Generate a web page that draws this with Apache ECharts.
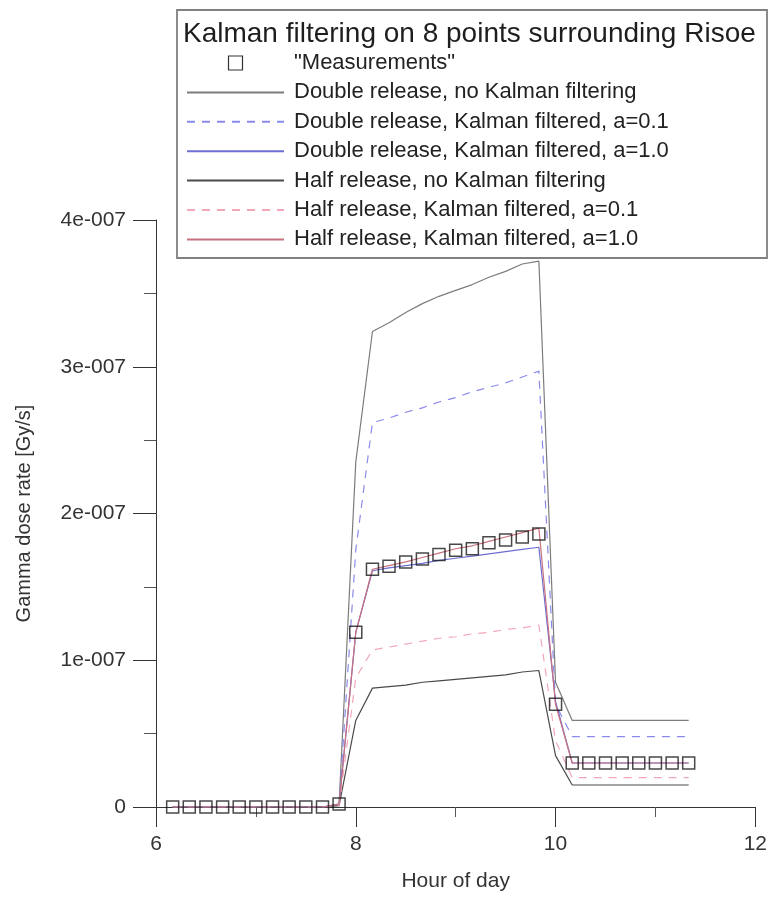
<!DOCTYPE html>
<html>
<head>
<meta charset="utf-8">
<script src="https://cdn.jsdelivr.net/npm/echarts@6/dist/echarts.min.js"></script>
<style>
  html, body { margin: 0; padding: 0; background: #fff; }
  #chart { width: 770px; height: 897px; }
</style>
</head>
<body>
<div id="chart"></div>
<script>
// hour of day, one point every 10 minutes
const hours = [6.167, 6.333, 6.5, 6.667, 6.833, 7.0, 7.167, 7.333, 7.5, 7.667, 7.833,
               8.0, 8.167, 8.333, 8.5, 8.667, 8.833, 9.0, 9.167, 9.333, 9.5, 9.667, 9.833,
               10.0, 10.167, 10.333, 10.5, 10.667, 10.833, 11.0, 11.167, 11.333];

// gamma dose rate, in units of 1e-7 Gy/s
const measured  = [0, 0, 0, 0, 0, 0, 0, 0, 0, 0, 0.02,
                   1.19, 1.62, 1.64, 1.67, 1.69, 1.72, 1.75, 1.76, 1.80, 1.82, 1.84, 1.86,
                   0.70, 0.30, 0.30, 0.30, 0.30, 0.30, 0.30, 0.30, 0.30];
const doubleRaw = [0, 0, 0, 0, 0, 0, 0, 0, 0, 0, 0.02,
                   2.35, 3.24, 3.30, 3.37, 3.43, 3.48, 3.52, 3.56, 3.61, 3.65, 3.70, 3.72,
                   0.85, 0.59, 0.59, 0.59, 0.59, 0.59, 0.59, 0.59, 0.59];
const doubleK01 = [0, 0, 0, 0, 0, 0, 0, 0, 0, 0, 0.01,
                   1.75, 2.62, 2.65, 2.69, 2.72, 2.76, 2.79, 2.83, 2.86, 2.89, 2.93, 2.97,
                   0.70, 0.48, 0.48, 0.48, 0.48, 0.48, 0.48, 0.48, 0.48];
const doubleK10 = [0, 0, 0, 0, 0, 0, 0, 0, 0, 0, 0.02,
                   1.19, 1.61, 1.63, 1.645, 1.66, 1.68, 1.695, 1.71, 1.725, 1.74, 1.755, 1.77,
                   0.72, 0.30, 0.30, 0.30, 0.30, 0.30, 0.30, 0.30, 0.30];
const halfRaw   = [0, 0, 0, 0, 0, 0, 0, 0, 0, 0, 0.01,
                   0.59, 0.81, 0.82, 0.83, 0.85, 0.86, 0.87, 0.88, 0.89, 0.90, 0.92, 0.93,
                   0.35, 0.15, 0.15, 0.15, 0.15, 0.15, 0.15, 0.15, 0.15];
const halfK01   = [0, 0, 0, 0, 0, 0, 0, 0, 0, 0, 0.01,
                   0.88, 1.07, 1.09, 1.11, 1.13, 1.15, 1.16, 1.18, 1.19, 1.21, 1.22, 1.24,
                   0.45, 0.20, 0.20, 0.20, 0.20, 0.20, 0.20, 0.20, 0.20];
const halfK10   = [0, 0, 0, 0, 0, 0, 0, 0, 0, 0, 0.02,
                   1.19, 1.62, 1.645, 1.67, 1.70, 1.73, 1.76, 1.78, 1.81, 1.84, 1.87, 1.90,
                   0.70, 0.30, 0.30, 0.30, 0.30, 0.30, 0.30, 0.30, 0.30];

const names = ['"Measurements"',
               'Double release, no Kalman filtering',
               'Double release, Kalman filtered, a=0.1',
               'Double release, Kalman filtered, a=1.0',
               'Half release, no Kalman filtering',
               'Half release, Kalman filtered, a=0.1',
               'Half release, Kalman filtered, a=1.0'];

const font = '"Liberation Sans", Arial, sans-serif';
const pairs = vals => hours.map((h, i) => [h, vals[i]]);

function lineSeries(name, vals, color, type) {
    return {
        name: name,
        type: 'line',
        data: pairs(vals),
        symbol: 'none',
        z: 2,
        lineStyle: { color: color, width: 1.2, type: type || 'solid' },
        itemStyle: { color: color }
    };
}

// legend entries: hollow square for the measurements, plain lines for the rest
const legendData = names.map((n, i) => i === 0
    ? { name: n, icon: 'path://M0,0H10V10H0Z',
        itemStyle: { opacity: 1, color: 'rgba(255,255,255,0)', borderColor: '#333', borderWidth: 1.2 } }
    : { name: n });

let myChart = echarts.init(document.getElementById('chart'), null, { renderer: 'canvas' });

myChart.setOption({
    backgroundColor: '#fff',
    animation: false,
    textStyle: { fontFamily: font },
    title: {
        text: 'Kalman filtering on 8 points surrounding Risoe',
        left: 183,
        top: 20,
        padding: 0,
        textStyle: { fontFamily: font, fontSize: 28, fontWeight: 'normal', color: '#1e1e1e' }
    },
    // box around title + legend
    graphic: [{
        type: 'rect',
        z: 1,
        shape: { x: 177, y: 10, width: 590, height: 248 },
        style: { fill: '#fff', stroke: '#808080', lineWidth: 1.8 }
    }],
    legend: {
        orient: 'vertical',
        left: 186,
        top: 52,
        padding: 0,
        itemWidth: 97,
        itemHeight: 14,
        itemGap: 7.4,
        selectedMode: false,
        itemStyle: { opacity: 0 },
        textStyle: { fontFamily: font, fontSize: 22, lineHeight: 22, color: '#222', padding: [0, 0, 0, 5] },
        data: legendData
    },
    grid: { left: 156, right: 13, top: 220, bottom: 82 },
    xAxis: {
        type: 'value',
        min: 6,
        max: 12,
        interval: 2,
        name: 'Hour of day',
        nameLocation: 'middle',
        nameGap: 64,
        nameTextStyle: { fontFamily: font, fontSize: 21, color: '#333' },
        axisLine: { lineStyle: { color: '#333', width: 1 } },
        axisTick: { length: 20, lineStyle: { color: '#333' } },
        minorTick: { show: true, splitNumber: 2, length: 10, lineStyle: { color: '#555' } },
        axisLabel: { fontFamily: font, fontSize: 21, color: '#333', margin: 27 },
        splitLine: { show: false }
    },
    yAxis: {
        type: 'value',
        min: 0,
        max: 4,
        interval: 1,
        name: 'Gamma dose rate [Gy/s]',
        nameLocation: 'middle',
        nameGap: 122,
        nameTextStyle: { fontFamily: font, fontSize: 20, color: '#333' },
        axisLine: { show: true, lineStyle: { color: '#333', width: 1 } },
        axisTick: { show: true, length: 23, lineStyle: { color: '#333' } },
        minorTick: { show: true, splitNumber: 2, length: 12, lineStyle: { color: '#555' } },
        axisLabel: {
            fontFamily: font, fontSize: 21, color: '#333', margin: 30,
            formatter: v => v === 0 ? '0' : v + 'e-007'
        },
        splitLine: { show: false }
    },
    series: [
        {
            name: names[0],
            type: 'scatter',
            data: pairs(measured),
            symbol: 'rect',
            symbolSize: 12,
            z: 5,
            itemStyle: { color: 'rgba(255,255,255,0)', borderColor: '#1a1a1a', borderWidth: 1.5 }
        },
        lineSeries(names[1], doubleRaw, '#7c7c7c'),
        lineSeries(names[2], doubleK01, '#8a8aec', [8, 7]),
        lineSeries(names[3], doubleK10, '#6e6ed2'),
        lineSeries(names[4], halfRaw, '#4a4a4a'),
        lineSeries(names[5], halfK01, '#f0a8b8', [8, 7]),
        lineSeries(names[6], halfK10, '#c8707f')
    ]
});
</script>
</body>
</html>
